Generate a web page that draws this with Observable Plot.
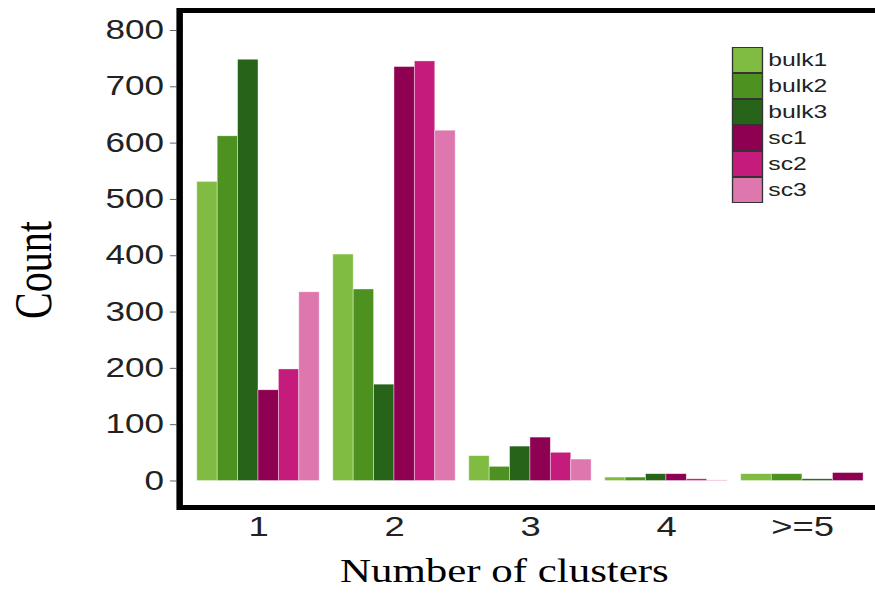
<!DOCTYPE html>
<html>
<head>
<meta charset="utf-8">
<script src="https://cdn.jsdelivr.net/npm/d3@7"></script>
<script src="https://cdn.jsdelivr.net/npm/@observablehq/plot@0.6"></script>
<style>
  html, body { margin: 0; padding: 0; background: #fff; overflow: hidden; }
  #wrap { position: relative; width: 681px; height: 595px; transform: scaleX(1.3); transform-origin: 0 0; }
  #wrap svg { position: absolute; left: 0; top: 0; }
  .ytitle { position: absolute; left: -78px; top: 250px; width: 200px; height: 40px; line-height: 40px;
            text-align: center; font: 40px "Liberation Serif", "Times New Roman", serif; color: #000;
            transform: rotate(-90deg); }
  .xtitle { position: absolute; left: 188px; top: 553px; width: 400px; height: 33px; line-height: 33px;
            text-align: center; font: 33px "Liberation Serif", "Times New Roman", serif; color: #000; }
  .legend { position: absolute; left: 563px; top: 47px; font: 19px "Liberation Sans", Arial, sans-serif; color: #222; }
  .legend .row { display: flex; align-items: center; height: 26px; }
  .legend .key { width: 24px; height: 26px; box-sizing: border-box; border: 1px solid #333; }
  .legend .lab { margin-left: 4px; line-height: 26px; }
</style>
</head>
<body>
<div id="wrap"></div>
<script>
// ---- data ----
const clusters = ["1", "2", "3", "4", ">=5"];
const series = ["bulk1", "bulk2", "bulk3", "sc1", "sc2", "sc3"];
const seriesColors = ["#7fbc41", "#4d9221", "#276419", "#8e0152", "#c51b7d", "#de77ae"];
const bulk1 = [531, 402, 44, 6, 12];
const bulk2 = [612, 340, 25, 6, 12];
const bulk3 = [748, 171, 61, 12, 3];
const sc1 = [161, 735, 77, 12, 14];
const sc2 = [198, 745, 50, 3, null];
const sc3 = [335, 622, 38, 1, null];
const yTicks = [0, 100, 200, 300, 400, 500, 600, 700, 800];
const xLabel = "Number of clusters";
const yLabel = "Count";

// ---- table (dodge within each cluster over the series present, like ggplot) ----
const values = [bulk1, bulk2, bulk3, sc1, sc2, sc3];
const rows = [];
clusters.forEach((c, ci) => {
  const present = series.map((s, si) => ({s, v: values[si][ci]})).filter(d => d.v != null);
  const w = 0.9 / present.length;
  present.forEach((d, k) => {
    const x1 = ci + 1 - 0.45 + k * w;
    rows.push({cluster: c, series: d.s, value: d.v, x1, x2: x1 + w});
  });
});

const plot = Plot.plot({
  width: 681,
  height: 595,
  marginLeft: 135.7,
  marginRight: 1.4,
  marginTop: 10,
  marginBottom: 88,
  style: {fontFamily: "'Liberation Sans', Arial, Helvetica, sans-serif", background: "white", color: "#222"},
  x: {domain: [0.4, 5.6], axis: null},
  y: {domain: [-47.1, 835.5], axis: null},
  color: {domain: series, range: seriesColors},
  marks: [
    Plot.rect(rows, {x1: "x1", x2: "x2", y1: 0, y2: "value", fill: "series",
                     stroke: "white", strokeWidth: 0.6, strokeOpacity: 0.5}),
    Plot.axisY({ticks: yTicks, tickSize: 5, tickPadding: 5, fontSize: 27, label: null, stroke: "#666"}),
    Plot.axisX({ticks: clusters.map((c, i) => i + 1), tickFormat: d => clusters[d - 1],
                tickSize: 0, tickPadding: 9, fontSize: 28, label: null}),
    Plot.frame({stroke: "black", strokeWidth: 5, insetLeft: 2})
  ]
});

const wrap = document.getElementById("wrap");
wrap.appendChild(plot);

const yt = document.createElement("div");
yt.className = "ytitle";
yt.textContent = yLabel;
wrap.appendChild(yt);

const xt = document.createElement("div");
xt.className = "xtitle";
xt.textContent = xLabel;
wrap.appendChild(xt);

const legend = document.createElement("div");
legend.className = "legend";
series.forEach((s, i) => {
  const row = document.createElement("div");
  row.className = "row";
  const key = document.createElement("div");
  key.className = "key";
  key.style.background = seriesColors[i];
  const lab = document.createElement("span");
  lab.className = "lab";
  lab.textContent = s;
  row.appendChild(key);
  row.appendChild(lab);
  legend.appendChild(row);
});
wrap.appendChild(legend);
</script>
</body>
</html>
